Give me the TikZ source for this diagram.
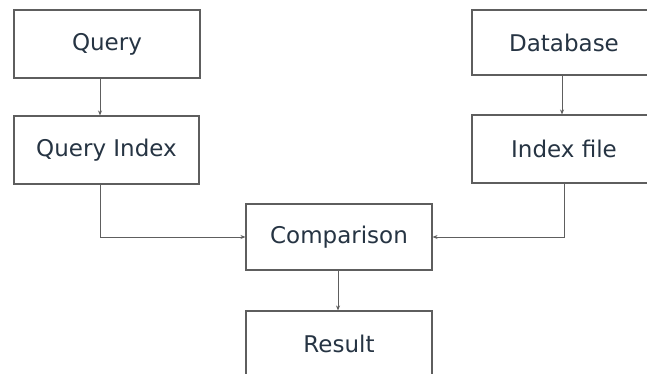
\documentclass[tikz,border=0pt]{standalone}
\usepackage{fontspec}
\setmainfont{DejaVu Sans}
\usetikzlibrary{arrows.meta}
\definecolor{txt}{HTML}{263443}
\definecolor{ln}{HTML}{5E5E5E}
\begin{document}
\begin{tikzpicture}[x=1pt,y=-1pt,
  box/.style={draw=ln,line width=1.1pt,rectangle,inner sep=0pt,
    text=txt,font=\fontsize{23}{26}\selectfont},
  conn/.style={draw=ln,line width=1pt,-{Stealth[length=5pt,width=4pt]}}]
\useasboundingbox (0,0) rectangle (647,374);
\clip (0,0) rectangle (647,374);
\fill[white] (0,0) rectangle (647,374);
\node[box,minimum width=186pt,minimum height=68pt] (q) at (107,44) {Query};
\node[box,minimum width=185pt,minimum height=68pt] (qi) at (106.5,150) {Query Index};
\node[box,minimum width=184pt,minimum height=65pt] (db) at (564,42.5) {Database};
\node[box,minimum width=184pt,minimum height=68pt] (ix) at (564,149) {Index file};
\node[box,minimum width=186pt,minimum height=66pt] (c) at (339,237) {Comparison};
\node[box,minimum width=186pt,minimum height=66pt] (r) at (339,344) {Result};
\coordinate (qcol) at (100,0);
\coordinate (dcol) at (562,0);
\coordinate (icol) at (564,0);
\coordinate (ccol) at (338,0);
\draw[conn] (q.south -| qcol) -- (qi.north -| qcol);
\draw[conn] (qi.south -| qcol) |- (c.west);
\draw[conn] (db.south -| dcol) -- (ix.north -| dcol);
\draw[conn] (ix.south -| icol) |- (c.east);
\draw[conn] (c.south -| ccol) -- (r.north -| ccol);
\end{tikzpicture}
\end{document}
